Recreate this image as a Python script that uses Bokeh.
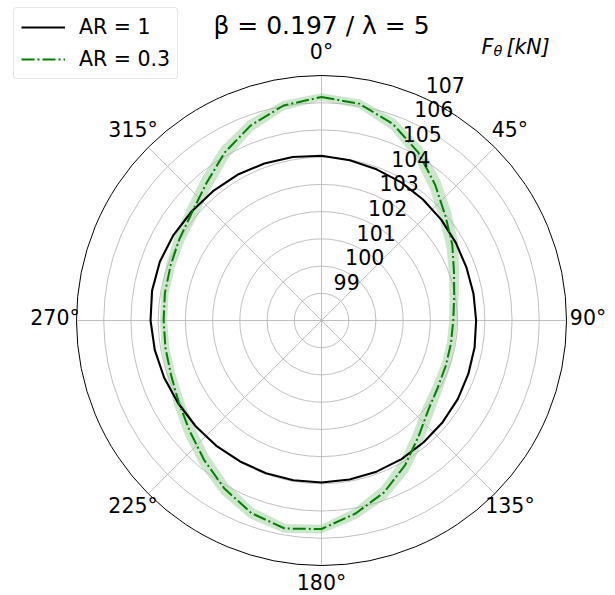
import math
from bokeh.plotting import figure
from bokeh.models import Range1d, Legend, LegendItem
from bokeh.core.properties import value
from bokeh.embed import file_html
from bokeh.resources import INLINE

# ---------------- data ----------------
ANGLES_DEG = [0, 10, 20, 30, 40, 50, 60, 70, 80, 90, 100, 110,
              120, 130, 140, 150, 160, 170, 180, 190, 200, 210, 220, 230,
              240, 250, 260, 270, 280, 290, 300, 310, 320, 330, 340, 350]

AR1_FORCE = [104.05, 103.98, 103.91, 103.86, 103.80, 103.75, 103.70, 103.67, 103.67, 103.68, 103.71, 103.74,
             103.78, 103.81, 103.84, 103.88, 103.91, 103.93, 103.95, 103.96, 103.97, 103.98, 104.01, 104.04,
             104.08, 104.15, 104.22, 104.28, 104.32, 104.32, 104.28, 104.23, 104.20, 104.18, 104.14, 104.10]

AR03_FORCE = [106.21, 106.08, 105.68, 105.12, 104.50, 103.95, 103.55, 103.18, 102.95, 102.84, 102.83, 102.86,
              102.93, 103.12, 103.55, 104.14, 104.72, 105.20, 105.66, 105.76, 105.53, 105.13, 104.70, 104.32,
              104.05, 103.88, 103.82, 103.80, 103.84, 103.90, 104.02, 104.20, 104.58, 105.12, 105.62, 106.02]

AR03_SPREAD = [0.14, 0.16, 0.21, 0.25, 0.27, 0.27, 0.24, 0.20, 0.17, 0.15, 0.15, 0.17,
               0.20, 0.24, 0.26, 0.26, 0.24, 0.20, 0.16, 0.17, 0.20, 0.23, 0.24, 0.23,
               0.20, 0.17, 0.14, 0.13, 0.14, 0.17, 0.20, 0.24, 0.26, 0.25, 0.21, 0.17]

R_TICKS = [99, 100, 101, 102, 103, 104, 105, 106, 107]
THETA_TICKS = [0, 45, 90, 135, 180, 225, 270, 315]
THETA_LABELS = ["0°", "45°", "90°", "135°", "180°", "225°", "270°", "315°"]
SERIES_LABELS = ["AR = 1", "AR = 0.3"]
TITLE = "β = 0.197 / λ = 5"
R_MIN, R_MAX = 98, 107

# ---------------- geometry / style ----------------
W, H = 615, 595
ORIGIN = 0                       # page offset of the figure
CX, CY = 321.0, 320.0            # polar centre on the page (px)
OUTER_PX = 245.0
S = OUTER_PX / (R_MAX - R_MIN)   # px per kN
FONT = "DejaVu Sans"
TICK_FS = "20.5px"
BASE_FIX = 9.5                   # px: alphabetic baseline correction


def page_to_data(X, Y):
    return (X - CX) / S, (CY - Y) / S


def polar(theta_deg, r):
    t = math.radians(theta_deg)
    return (r - R_MIN) * math.sin(t), (r - R_MIN) * math.cos(t)


def closed_xy(angles, radii):
    xs, ys = [], []
    for a, r in zip(angles + angles[:1], radii + radii[:1]):
        x, y = polar(a, r)
        xs.append(x)
        ys.append(y)
    return xs, ys


x0, y1 = page_to_data(ORIGIN, ORIGIN)
x1, y0 = page_to_data(ORIGIN + W, ORIGIN + H)

p = figure(width=W, height=H, x_range=Range1d(x0, x1), y_range=Range1d(y0, y1),
           x_axis_type=None, y_axis_type=None, output_backend="svg",
           toolbar_location=None, min_border=0)
p.outline_line_color = None
p.background_fill_color = "white"
p.border_fill_color = "white"

# shaded band around AR = 0.3
lo = [v - s for v, s in zip(AR03_FORCE, AR03_SPREAD)]
hi = [v + s for v, s in zip(AR03_FORCE, AR03_SPREAD)]
ox, oy = closed_xy(ANGLES_DEG, hi)
ix, iy = closed_xy(ANGLES_DEG, lo)
p.multi_polygons(xs=[[[ox, ix]]], ys=[[[oy, iy]]], fill_color="green",
                 fill_alpha=0.2, line_color=None)

# grid circles and spokes
inner = [r - R_MIN for r in R_TICKS if r < R_MAX]
p.circle(x=[0] * len(inner), y=[0] * len(inner), radius=inner,
         fill_color=None, line_color="#b0b0b0", line_width=0.8)
sx, sy = [], []
for a in THETA_TICKS:
    x, y = polar(a, R_MAX)
    sx.append(x)
    sy.append(y)
p.segment(x0=[0] * len(sx), y0=[0] * len(sy), x1=sx, y1=sy,
          line_color="#b0b0b0", line_width=0.8)

# series
bx, by = closed_xy(ANGLES_DEG, AR1_FORCE)
gx, gy = closed_xy(ANGLES_DEG, AR03_FORCE)
r_black = p.line(bx, by, line_color="black", line_width=2.1)
r_green = p.line(gx, gy, line_color="green", line_width=2, line_dash="13 3 2 3")

# outer spine
p.circle(x=[0], y=[0], radius=[R_MAX - R_MIN], fill_color=None,
         line_color="black", line_width=1)

# theta labels
LAB_PX = 266.5
tx, ty = [], []
for a in THETA_TICKS:
    x, y = polar(a, R_MIN + LAB_PX / S)
    tx.append(x)
    ty.append(y + 2.5 / S)
ty[THETA_TICKS.index(180)] += 2.0 / S
p.text(x=tx, y=ty, text=THETA_LABELS, text_align="center", text_baseline="middle",
       text_font=value(FONT), text_font_size=TICK_FS, text_color="black")

# radial labels
RLAB_ANGLE = 25
rx, ry = [], []
for r in R_TICKS:
    x, y = polar(RLAB_ANGLE, r)
    rx.append(x + 0.6 / S)
    ry.append(y + (4.2 + BASE_FIX) / S)
p.text(x=rx, y=ry, text=[str(r) for r in R_TICKS], text_align="left",
       text_baseline="alphabetic", text_font=value(FONT), text_font_size=TICK_FS,
       text_color="black")

# title
tx0, ty0 = page_to_data(321, 34 - BASE_FIX)
p.text(x=[tx0], y=[ty0], text=[TITLE], text_align="center", text_baseline="alphabetic",
       text_font=value(FONT), text_font_size="25px", text_color="black")

# F_theta [kN] label
fx, fy = page_to_data(481, 56 - BASE_FIX)
p.text(x=[fx], y=[fy], text=["F"], text_align="left", text_baseline="alphabetic",
       text_font=value(FONT), text_font_size=TICK_FS, text_font_style="italic")
fx, fy = page_to_data(493, 59.5 - BASE_FIX)
p.text(x=[fx], y=[fy], text=["θ"], text_align="left", text_baseline="alphabetic",
       text_font=value(FONT), text_font_size="14.5px", text_font_style="italic")
fx, fy = page_to_data(506, 56 - BASE_FIX)
p.text(x=[fx], y=[fy], text=["[kN]"], text_align="left", text_baseline="alphabetic",
       text_font=value(FONT), text_font_size=TICK_FS, text_font_style="italic")

# legend
legend = Legend(items=[LegendItem(label=SERIES_LABELS[0], renderers=[r_black]),
                       LegendItem(label=SERIES_LABELS[1], renderers=[r_green])],
                location=(13, 516), orientation="vertical")
legend.label_text_font = FONT
legend.label_text_font_size = TICK_FS
legend.label_text_color = "black"
legend.glyph_width = 44
legend.glyph_height = 24
legend.label_height = 24
legend.label_standoff = 14
legend.spacing = 8
legend.padding = 7
legend.margin = 0
legend.border_line_color = "#cccccc"
legend.border_line_width = 1
legend.background_fill_alpha = 0.8
try:
    legend.border_radius = 4
except Exception:
    pass
p.add_layout(legend)

open("out.html", "w").write(file_html(p, INLINE))
